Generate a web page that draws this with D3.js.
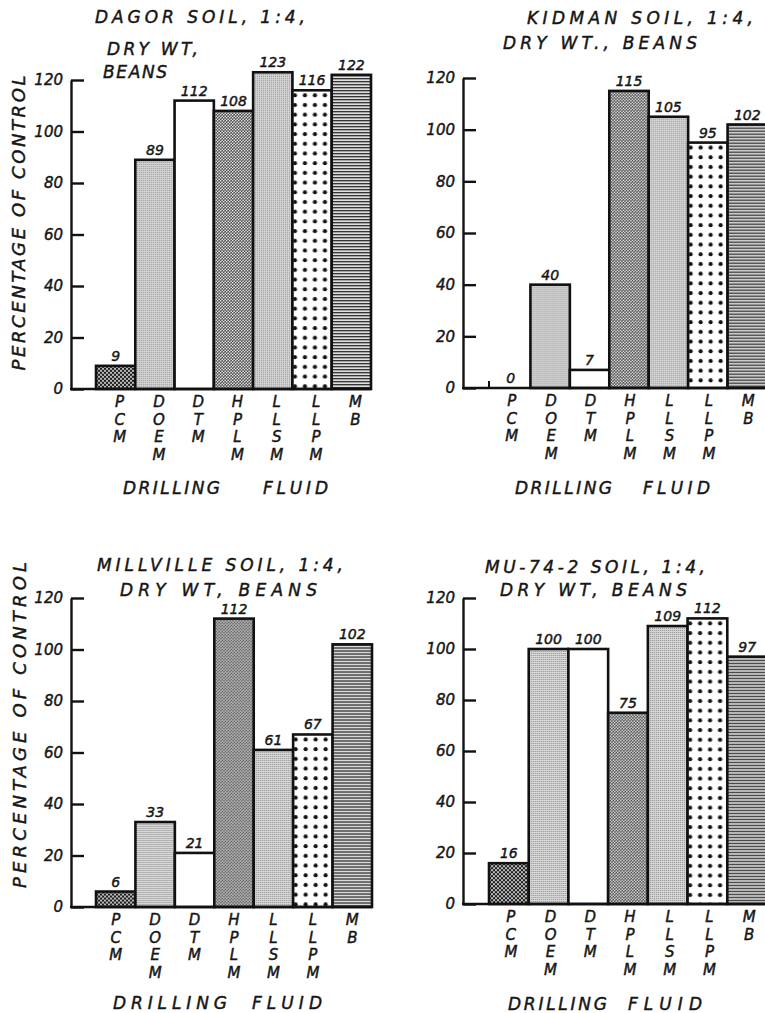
<!DOCTYPE html>
<html><head><meta charset="utf-8">
<script src="https://cdn.jsdelivr.net/npm/d3@7"></script>
<style>
body{margin:0;background:#fff;}
svg{display:block;}
text{font-family:"DejaVu Sans",sans-serif;fill:#161616;font-style:italic;stroke:#161616;stroke-width:0.45px;}
</style></head><body>
<svg id="c" width="765" height="1013"></svg>
<script>
// ---------- data ----------
const categories = ["PCM","DOEM","DTM","HPLM","LLSM","LLPM","MB"];
const dagorValues = [9,89,112,108,123,116,122];
const kidmanValues = [0,40,7,115,105,95,102];
const millvilleValues = [6,33,21,112,61,67,102];
const mu742Values = [16,100,100,75,109,112,97];
const yTicks = [0,20,40,60,80,100,120];
const panelTitles = [
  ["DAGOR SOIL, 1:4,","DRY WT,","BEANS"],
  ["KIDMAN SOIL, 1:4,","DRY WT., BEANS"],
  ["MILLVILLE SOIL, 1:4,","DRY WT, BEANS"],
  ["MU-74-2 SOIL, 1:4,","DRY WT, BEANS"]
];
const yTitle = "PERCENTAGE OF CONTROL";
const xTitleWords = ["DRILLING","FLUID"];
const seriesValues = [dagorValues, kidmanValues, millvilleValues, mu742Values];

// ---------- layout (positions / styles) ----------
const layout = [
  {axisX:71, x0:96, x1:371, y0:389, yTop:80, labDx:4,
   titles:[{x:95,y:23,w:210},{x:107,y:55,w:91},{x:103,y:78,w:64}],
   yT:{x:19,cy:223,len:295}, xT:[{x:123,w:97},{x:263,w:65}], xTY:494},
  {axisX:463, x0:491, x1:767, y0:388, yTop:78, labDx:1,
   titles:[{x:527,y:24,w:226},{x:503,y:49,w:194}],
   yT:null, xT:[{x:515,w:97},{x:643,w:67}], xTY:494},
  {axisX:71, x0:96, x1:372, y0:907, yTop:598, labDx:0,
   titles:[{x:97,y:571,w:246},{x:120,y:596,w:197}],
   yT:{x:20,cy:725,len:326}, xT:[{x:113,w:114},{x:252,w:70}], xTY:1009},
  {axisX:463, x0:489, x1:767, y0:904, yTop:598, labDx:2,
   titles:[{x:485,y:573,w:220},{x:500,y:596,w:187}],
   yT:null, xT:[{x:508,w:99},{x:628,w:74}], xTY:1010}
];
const fills = {PCM:"url(#pcm)", DOEM:"url(#stip)", DTM:"#ffffff", HPLM:"url(#hplm)",
               LLSM:"url(#stip)", LLPM:"url(#dots)", MB:"url(#hl)"};

const svg = d3.select("#c");
svg.append("rect").attr("width",765).attr("height",1013).attr("fill","#fff");
const defs = svg.append("defs");

// patterns
let p = defs.append("pattern").attr("id","pcm").attr("patternUnits","userSpaceOnUse").attr("width",4).attr("height",4);
p.append("rect").attr("width",4).attr("height",4).attr("fill","#1c1c1c");
p.append("circle").attr("cx",1).attr("cy",1).attr("r",0.95).attr("fill","#fff");
p.append("circle").attr("cx",3).attr("cy",3).attr("r",0.95).attr("fill","#fff");

p = defs.append("pattern").attr("id","hplm").attr("patternUnits","userSpaceOnUse").attr("width",3).attr("height",3);
p.append("rect").attr("width",3).attr("height",3).attr("fill","#333");
p.append("circle").attr("cx",0.75).attr("cy",0.75).attr("r",0.85).attr("fill","#fff");
p.append("circle").attr("cx",2.25).attr("cy",2.25).attr("r",0.85).attr("fill","#fff");

p = defs.append("pattern").attr("id","stip").attr("patternUnits","userSpaceOnUse").attr("width",2).attr("height",2);
p.append("rect").attr("width",2).attr("height",2).attr("fill","#d8d8d8");
p.append("rect").attr("width",1).attr("height",1).attr("fill","#8c8c8c");

p = defs.append("pattern").attr("id","dots").attr("patternUnits","userSpaceOnUse").attr("width",10).attr("height",9.7);
p.append("rect").attr("width",10).attr("height",9.7).attr("fill","#fff");
p.append("circle").attr("cx",2.5).attr("cy",5).attr("r",2.1).attr("fill","#111");

p = defs.append("pattern").attr("id","hl").attr("patternUnits","userSpaceOnUse").attr("width",4).attr("height",3);
p.append("rect").attr("width",4).attr("height",3).attr("fill","#fff");
p.append("rect").attr("width",4).attr("height",1.5).attr("fill","#262626");

seriesValues.forEach((vals, i) => {
  const L = layout[i];
  const g = svg.append("g");
  const x = d3.scaleBand().domain(categories).range([L.x0, L.x1]).padding(0);
  const y = d3.scaleLinear().domain([0,120]).range([L.y0, L.yTop]);
  const data = categories.map((c,k)=>({c, v: vals[k]}));

  // bars
  data.filter(d=>d.v>0).forEach(d=>{
    const bg = g.append("g").attr("transform",`translate(${x(d.c)},${y(d.v)})`);
    bg.append("rect").attr("width",x.bandwidth()).attr("height",y(0)-y(d.v))
      .attr("fill",fills[d.c]).attr("stroke","#111").attr("stroke-width",2.6);
  });
  // zero-value bar: just a short stub at its left edge, as drawn in the original
  data.filter(d=>d.v===0).forEach(d=>{
    g.append("line").attr("x1",x(d.c)-2).attr("x2",x(d.c)-2).attr("y1",y(0)).attr("y2",y(0)-7)
      .attr("stroke","#111").attr("stroke-width",2);
  });

  // value labels
  g.selectAll(".val").data(data).join("text")
    .attr("x",d=>x(d.c)+x.bandwidth()/2).attr("y",d=>y(d.v)-5)
    .attr("text-anchor","middle").attr("font-size",14).text(d=>d.v);

  // y axis
  const ax = g.append("g").attr("transform",`translate(${L.axisX},0)`)
    .call(d3.axisLeft(y).tickValues(yTicks).tickSize(-13).tickSizeOuter(0).tickPadding(8));
  ax.select(".domain").attr("stroke","#111").attr("stroke-width",2.4);
  ax.selectAll(".tick line").attr("stroke","#111").attr("stroke-width",2.4);
  ax.selectAll(".tick text").attr("font-size",15).attr("font-family","DejaVu Sans")
    .style("font-style","italic").attr("fill","#161616");

  // baseline
  g.append("line").attr("x1",L.axisX-1).attr("x2",L.x1).attr("y1",y(0)).attr("y2",y(0))
    .attr("stroke","#111").attr("stroke-width",2.4);

  // category labels (stacked letters)
  data.forEach(d=>{
    d.c.split("").forEach((ch,j)=>{
      g.append("text").attr("x",x(d.c)+x.bandwidth()/2+L.labDx).attr("y",y(0)+18+j*17.6)
        .attr("text-anchor","middle").attr("font-size",15).text(ch);
    });
  });

  // titles
  panelTitles[i].forEach((t,j)=>{
    const T = L.titles[j];
    g.append("text").attr("x",T.x).attr("y",T.y).attr("font-size",17)
      .attr("textLength",T.w).attr("lengthAdjust","spacing").text(t);
  });

  // x title
  xTitleWords.forEach((w,j)=>{
    const T = L.xT[j];
    g.append("text").attr("x",T.x).attr("y",L.xTY).attr("font-size",17)
      .attr("textLength",T.w).attr("lengthAdjust","spacing").text(w);
  });

  // y title
  if (L.yT) {
    g.append("text").attr("transform",`translate(${L.yT.x+6},${L.yT.cy}) rotate(-90)`)
      .attr("text-anchor","middle").attr("font-size",18)
      .attr("textLength",L.yT.len).attr("lengthAdjust","spacing").text(yTitle);
  }
});
</script>
</body></html>
